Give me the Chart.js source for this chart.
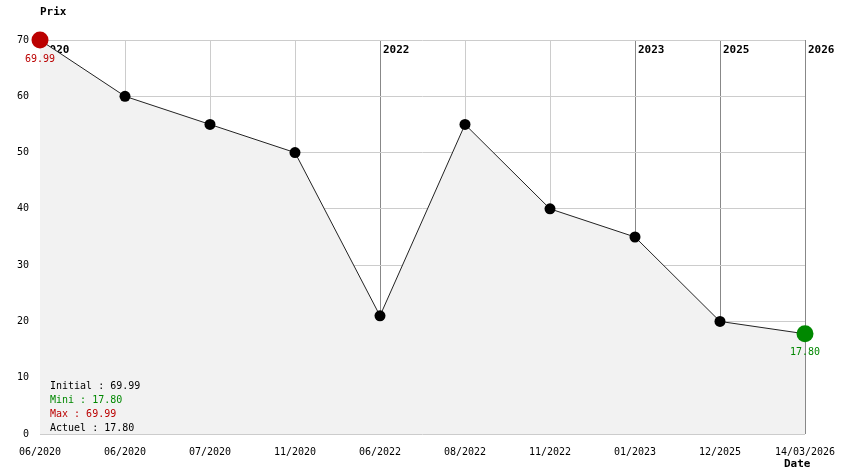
<!DOCTYPE html>
<html><head><meta charset="utf-8">
<script src="https://cdn.jsdelivr.net/npm/chart.js@4/dist/chart.umd.min.js"></script>
<style>html,body{margin:0;padding:0;background:#fff;}canvas{display:block;}</style>
</head><body>
<canvas id="c" width="844" height="474"></canvas>
<script>
const categories = ['06/2020','06/2020','07/2020','11/2020','06/2022','08/2022','11/2022','01/2023','12/2025','14/03/2026'];
const prices = [69.99, 60, 55, 50, 21, 55, 40, 35, 20, 17.80];
const yearIndices = [0, 4, 7, 8, 9];
const yearLabels = ['2020', '2022', '2023', '2025', '2026'];
const yTicks = [0, 10, 20, 30, 40, 50, 60, 70];
const summaryLines = ['Initial : 69.99', 'Mini : 17.80', 'Max : 69.99', 'Actuel : 17.80'];
const summaryColors = ['#000000', '#008800', '#bb0000', '#000000'];

const MONO = '"DejaVu Sans Mono", "Liberation Mono", monospace';
const last = prices.length - 1;

const overlay = {
  id: 'overlay',
  beforeDatasetsDraw(chart) {
    const ctx = chart.ctx, x = chart.scales.x, area = chart.chartArea;
    ctx.save();
    ctx.font = 'bold 11px ' + MONO;
    ctx.fillStyle = '#000';
    ctx.textAlign = 'left';
    ctx.textBaseline = 'top';
    yearIndices.forEach((idx, i) => {
      ctx.fillText(yearLabels[i], x.getPixelForValue(idx) + 3, area.top + 5);
    });
    ctx.restore();
  },
  afterDraw(chart) {
    const ctx = chart.ctx, x = chart.scales.x, y = chart.scales.y, area = chart.chartArea;
    ctx.save();
    ctx.textBaseline = 'top';
    ctx.font = 'bold 11px ' + MONO;
    ctx.fillStyle = '#000';
    ctx.textAlign = 'left';
    ctx.fillText('Prix', area.left, 7);
    ctx.fillText('Date', area.right - 21, 459);
    ctx.font = '10px ' + MONO;
    ctx.textAlign = 'center';
    ctx.fillStyle = '#bb0000';
    ctx.fillText(prices[0].toFixed(2), x.getPixelForValue(0), y.getPixelForValue(prices[0]) + 14);
    ctx.fillStyle = '#008800';
    ctx.fillText(prices[last].toFixed(2), x.getPixelForValue(last), y.getPixelForValue(prices[last]) + 14);
    ctx.textAlign = 'left';
    summaryLines.forEach((t, i) => {
      ctx.fillStyle = summaryColors[i];
      ctx.fillText(t, area.left + 10, area.bottom - 53 + i * 14);
    });
    ctx.restore();
  }
};

new Chart(document.getElementById('c'), {
  type: 'line',
  data: {
    labels: categories,
    datasets: [{
      data: prices,
      borderColor: '#222222',
      borderWidth: 1,
      tension: 0,
      clip: false,
      fill: 'origin',
      backgroundColor: '#f2f2f2',
      pointRadius: prices.map((v, i) => (i === 0 || i === last) ? 8.5 : 5.5),
      pointBackgroundColor: prices.map((v, i) => i === 0 ? '#bb0000' : (i === last ? '#008800' : '#000000')),
      pointBorderWidth: 0,
      pointBorderColor: 'rgba(0,0,0,0)'
    }]
  },
  options: {
    responsive: false,
    animation: false,
    events: [],
    layout: { padding: { top: 40, right: 39, left: 0, bottom: 0 } },
    plugins: { legend: { display: false }, tooltip: { enabled: false } },
    scales: {
      x: {
        offset: false,
        border: { display: false },
        grid: {
          drawTicks: false,
          color: (c) => yearIndices.includes(c.index) ? '#888888' : '#cccccc',
          lineWidth: 1
        },
        ticks: {
          autoSkip: false, maxRotation: 0, padding: 12,
          color: '#000', font: { family: MONO, size: 10 }
        },
        afterFit(s) { s.height = 40; s.paddingLeft = 0; s.paddingRight = 0; }
      },
      y: {
        min: 0, max: 70,
        border: { display: false },
        grid: { drawTicks: false, color: '#cccccc', lineWidth: 1 },
        afterBuildTicks(s) { s.ticks = yTicks.map(v => ({ value: v })); },
        ticks: { padding: 11, color: '#000', font: { family: MONO, size: 10 } },
        afterFit(s) { s.width = 40; s.paddingTop = 0; s.paddingBottom = 0; }
      }
    }
  },
  plugins: [overlay]
});
</script>
</body></html>
